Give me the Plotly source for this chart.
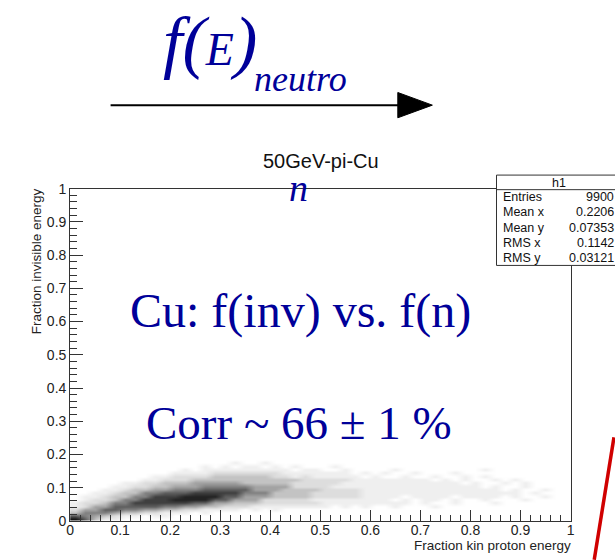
import plotly.graph_objects as go

# ---------------- data ----------------
# 2D density of the scatter (0 = empty ... 9 = darkest), bins 0.02 wide in x, 0.01 high in y
x_bin_centers = [round(0.01 + 0.02 * j, 2) for j in range(50)]
y_bin_centers = [round(0.005 + 0.01 * i, 3) for i in range(20)]
density_rows_top_down = [
    "00000000000000000000000000000000000000000000000000",  # 0.195
    "00000000000000000000000000000000000000000000000000",  # 0.185
    "00000000000000001001000000000000000000000000000000",  # 0.175
    "00000000000001010110101000100000000000000000000000",  # 0.165
    "00000000000101111111110110010000100000000100000000",  # 0.155
    "00000000001111222222211111110101001000100000000000",  # 0.145
    "00000000112222333333221211111010010010010100000000",  # 0.135
    "00000001122233333333333222221111111101010010100000",  # 0.125
    "00000112233344444333332222211111111111101001010000",  # 0.115
    "00001122334445555544442222111111111111111010010000",  # 0.105
    "00011233445556666644433332222111111111111110100100",  # 0.095
    "00112335566677777555333322222111111111111111101000",  # 0.085
    "01123355777888866444333322222111101111011110100100",  # 0.075
    "01223557778888664442222211111111010110100100010000",  # 0.065
    "12235577777766443332222221111111110100100010000000",  # 0.055
    "12446666655443322211111111010100100010000000000000",  # 0.045
    "24466554433221111010100000000000000000000000000000",  # 0.035
    "35554332211101000000000000000000000000000000000000",  # 0.025
    "65432110110000000000000000000000000000000000000000",  # 0.015
    "96311000000000000000000000000000000000000000000000",  # 0.005
]
x_tick_values = [0, 0.1, 0.2, 0.3, 0.4, 0.5, 0.6, 0.7, 0.8, 0.9, 1]
y_tick_values = [0, 0.1, 0.2, 0.3, 0.4, 0.5, 0.6, 0.7, 0.8, 0.9, 1]
stats_names = ["Entries", "Mean x", "Mean y", "RMS x", "RMS y"]
stats_values = ["9900", "0.2206", "0.07353", "0.1142", "0.03121"]

density = [[int(c) for c in row] for row in reversed(density_rows_top_down)]

# ---------------- layout helpers (pixel -> paper, paper = whole page) ----------------
W, H = 615, 560
L, R, T, B = 67, 574, 186, 528


def px(x):
    return x / W


def py(y):
    return 1 - y / H


SANS = "Liberation Sans, Arial, sans-serif"
SERIF = "Liberation Serif, Times New Roman, serif"
BLUE = "#000099"
AX = "#333333"

fig = go.Figure()
fig.add_trace(go.Heatmap(
    x=x_bin_centers, y=y_bin_centers, z=density,
    zmin=0, zmax=9, showscale=False, hoverinfo="skip", zsmooth="best",
    colorscale=[[0, "#ffffff"], [0.11, "#efefef"], [0.22, "#dedede"], [0.33, "#c4c4c4"],
                [0.44, "#a4a4a4"], [0.56, "#808080"], [0.67, "#5e5e5e"], [0.78, "#3e3e3e"],
                [0.89, "#232323"], [1, "#0e0e0e"]],
))

axis_common = dict(
    range=[0, 1], showgrid=False, zeroline=False, showline=True, mirror=True,
    linecolor=AX, linewidth=1, ticks="inside", tickwidth=1, tickcolor=AX,
    tickfont=dict(family=SANS, size=14, color="#222"),
)
fig.update_xaxes(**axis_common, domain=[L / W, R / W], tickvals=x_tick_values, ticklen=11,
                 ticktext=[f"{v:g}" for v in x_tick_values], ticklabelstandoff=-4,
                 minor=dict(dtick=0.02, tick0=0, ticks="inside", ticklen=6, tickcolor=AX))
fig.update_yaxes(**axis_common, domain=[1 - B / H, 1 - T / H], tickvals=y_tick_values, ticklen=13,
                 ticktext=[f"{v:g}" for v in y_tick_values],
                 minor=dict(dtick=0.02, tick0=0, ticks="inside", ticklen=7, tickcolor=AX))

ann = []


def add_text(x, y, text, xanchor="center", yanchor="middle", **kw):
    d = dict(x=px(x), y=py(y), xref="paper", yref="paper", text=text, showarrow=False,
             xanchor=xanchor, yanchor=yanchor, borderpad=0)
    d.update(kw)
    ann.append(d)


# title of the histogram
add_text(321, 158, "50GeV-pi-Cu", font=dict(family=SANS, size=20, color="#111"))
add_text(298, 185, "<i>n</i>", font=dict(family=SERIF, size=38, color=BLUE))
# axis titles
add_text(33, 185, "Fraction invisible energy", textangle=-90, yanchor="top",
         font=dict(family=SANS, size=13.5, color="#222"))
add_text(575, 553, "Fraction kin proton energy", xanchor="right",
         font=dict(family=SANS, size=13.5, color="#222"))
# big blue texts
add_text(300, 312, "Cu: f(inv) vs. f(n)", font=dict(family=SERIF, size=48, color=BLUE))
add_text(299, 427, "Corr ~ 66 ± 1 %", font=dict(family=SERIF, size=47, color=BLUE))
# f(E)_neutro header
add_text(160, 34, '<i><span style="font-size:70px">f(</span><span style="font-size:46px">E</span>'
                  '<span style="font-size:70px">)</span></i>',
         xanchor="left", font=dict(family=SERIF, size=70, color=BLUE))
add_text(252, 73, "<i>neutro</i>", xanchor="left",
         font=dict(family=SERIF, size=36, color=BLUE))

# stats box texts
add_text(562, 180, "h1", font=dict(family=SANS, size=12.5, color="#111"))
row_y = [195, 210.5, 226, 241.5, 257]
for name, val, yy in zip(stats_names, stats_values, row_y):
    add_text(505, yy, name, xanchor="left", font=dict(family=SANS, size=12.5, color="#111"))
    add_text(619, yy, val, xanchor="right", font=dict(family=SANS, size=12.5, color="#111"))

shapes = []
# stats box
shapes.append(dict(type="rect", xref="paper", yref="paper", x0=px(499), x1=px(660),
                   y0=py(172), y1=py(265), fillcolor="white", line=dict(color=AX, width=1),
                   layer="above"))
shapes.append(dict(type="line", xref="paper", yref="paper", x0=px(499), x1=px(660),
                   y0=py(187), y1=py(187), line=dict(color=AX, width=1), layer="above"))
# arrow
shapes.append(dict(type="line", xref="paper", yref="paper", x0=px(108), x1=px(402),
                   y0=py(100), y1=py(100), line=dict(color="black", width=2)))
shapes.append(dict(type="path", xref="paper", yref="paper",
                   path=f"M {px(399)},{py(87)} L {px(434)},{py(100)} L {px(399)},{py(113)} Z",
                   fillcolor="black", line=dict(color="black", width=1)))
# red line at bottom right
shapes.append(dict(type="line", xref="paper", yref="paper", x0=px(598), x1=px(618),
                   y0=py(568), y1=py(442), line=dict(color="#d00000", width=3.5)))

fig.update_layout(
    width=W, height=H, margin=dict(l=0, r=0, t=0, b=0),
    paper_bgcolor="white", plot_bgcolor="white", showlegend=False,
    annotations=ann, shapes=shapes,
)

fig.write_html("out.html")
